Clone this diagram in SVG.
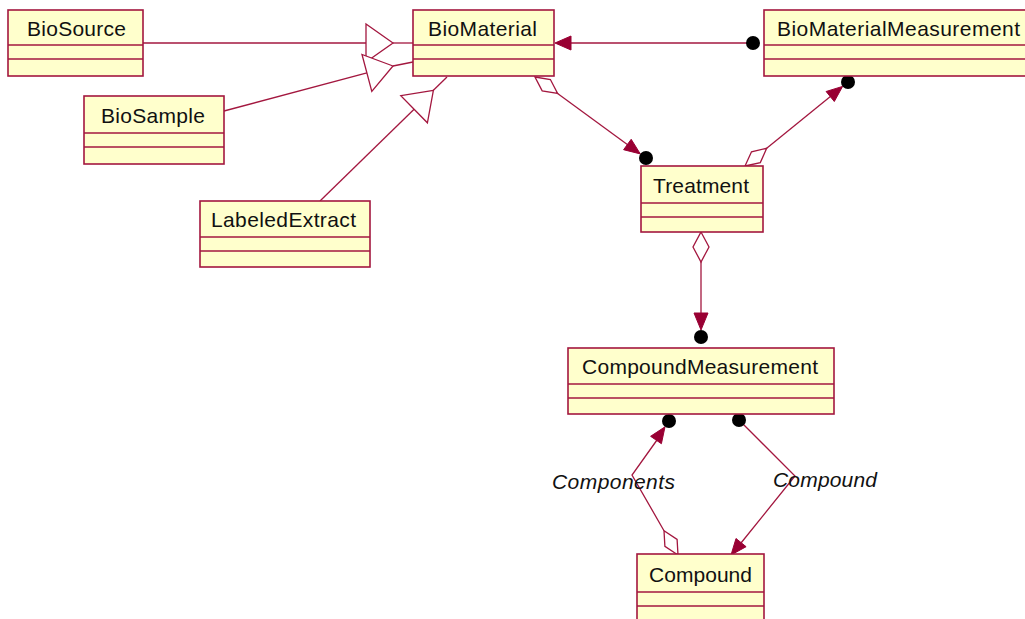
<svg xmlns="http://www.w3.org/2000/svg" width="1025" height="619" viewBox="0 0 1025 619">
  <style>
    .box { fill: #ffffcc; stroke: #a3173f; stroke-width: 1.6; }
    .sep { stroke: #a3173f; stroke-width: 1.6; }
    .name { font-family: "Liberation Sans", Arial, sans-serif; font-size: 21px; fill: #111; }
    .role { font-family: "Liberation Sans", Arial, sans-serif; font-size: 21px; font-style: italic; fill: #111; }
    .edge { fill: none; stroke: #a3173f; stroke-width: 1.3; }
    .hollow { fill: #ffffff; stroke: #a3173f; stroke-width: 1.3; }
    .head { fill: #990033; stroke: #990033; stroke-width: 1; }
    .end { fill: #000000; }
  </style>

  <!-- connectors -->
  <g id="connectors">
    <!-- generalizations into BioMaterial -->
    <line class="edge" x1="143" y1="43" x2="366" y2="43"/>
    <line class="edge" x1="393" y1="43" x2="413" y2="43"/>
    <polygon class="hollow" points="393,43 366,24 366,62"/>

    <line class="edge" x1="224" y1="111" x2="366.9" y2="72.9"/>
    <line class="edge" x1="393" y1="66" x2="413" y2="62"/>
    <polygon class="hollow" points="393,66 362,54.5 371.8,91.3"/>

    <line class="edge" x1="320" y1="201" x2="414.1" y2="109.2"/>
    <line class="edge" x1="433.4" y1="90.3" x2="447" y2="77"/>
    <polygon class="hollow" points="433.4,90.3 400.8,95.6 427.4,122.8"/>

    <!-- BioMaterialMeasurement to BioMaterial -->
    <line class="edge" x1="570" y1="43" x2="753" y2="43"/>
    <polygon class="head" points="555,43 571,36 571,50"/>
    <circle class="end" cx="753" cy="43" r="7"/>

    <!-- BioMaterial to Treatment -->
    <line class="edge" x1="557.6" y1="93.5" x2="628" y2="145"/>
    <polygon class="hollow" points="535,77 550.4,79.5 557.6,93.5 542.2,90.9"/>
    <polygon class="head" points="640.3,153.9 631.2,139.3 623.6,149.7"/>
    <circle class="end" cx="646" cy="158" r="7"/>

    <!-- Treatment to BioMaterialMeasurement -->
    <line class="edge" x1="766.7" y1="148.3" x2="831" y2="96"/>
    <polygon class="hollow" points="745,166 760.3,162.6 766.7,148.3 751.5,151.8"/>
    <polygon class="head" points="842.6,86.4 826.1,91.5 834.3,101.5"/>
    <circle class="end" cx="848" cy="82" r="7"/>

    <!-- Treatment to CompoundMeasurement -->
    <line class="edge" x1="701" y1="262" x2="701" y2="314"/>
    <polygon class="hollow" points="701,232 709,247 701,262 693,247"/>
    <polygon class="head" points="701,330 694,313 708,313"/>
    <circle class="end" cx="701" cy="337" r="7"/>

    <!-- Components -->
    <polyline class="edge" points="664,530.7 632,475 657,440"/>
    <polygon class="hollow" points="678,555 664.9,546.4 664,530.7 677.1,539.4"/>
    <polygon class="head" points="665,426.8 650.6,436.3 661.4,443.7"/>
    <circle class="end" cx="669" cy="421" r="7"/>

    <!-- Compound -->
    <polyline class="edge" points="739,420 795,476 741,543"/>
    <polygon class="head" points="731,555 736,538.5 746.1,546.7"/>
    <circle class="end" cx="739" cy="420" r="7"/>

    <text class="role" x="552" y="489" textLength="123" lengthAdjust="spacing">Components</text>
    <text class="role" x="773" y="487" textLength="104" lengthAdjust="spacing">Compound</text>
  </g>

  <!-- classes -->
  <g id="BioSource">
    <rect class="box" x="8" y="10" width="135" height="66"/>
    <line class="sep" x1="8" y1="45" x2="143" y2="45"/>
    <line class="sep" x1="8" y1="59" x2="143" y2="59"/>
    <text class="name" x="27" y="36" textLength="99" lengthAdjust="spacing">BioSource</text>
  </g>

  <g id="BioMaterial">
    <rect class="box" x="413" y="10" width="141" height="66"/>
    <line class="sep" x1="413" y1="45" x2="554" y2="45"/>
    <line class="sep" x1="413" y1="59" x2="554" y2="59"/>
    <text class="name" x="428" y="36" textLength="109" lengthAdjust="spacing">BioMaterial</text>
  </g>

  <g id="BioMaterialMeasurement">
    <rect class="box" x="764" y="10" width="270" height="66"/>
    <line class="sep" x1="764" y1="45" x2="1034" y2="45"/>
    <line class="sep" x1="764" y1="59" x2="1034" y2="59"/>
    <text class="name" x="777" y="36" textLength="243" lengthAdjust="spacing">BioMaterialMeasurement</text>
  </g>

  <g id="BioSample">
    <rect class="box" x="84" y="96" width="140" height="68"/>
    <line class="sep" x1="84" y1="133" x2="224" y2="133"/>
    <line class="sep" x1="84" y1="147" x2="224" y2="147"/>
    <text class="name" x="101" y="123" textLength="104" lengthAdjust="spacing">BioSample</text>
  </g>

  <g id="LabeledExtract">
    <rect class="box" x="200" y="201" width="170" height="66"/>
    <line class="sep" x1="200" y1="237" x2="370" y2="237"/>
    <line class="sep" x1="200" y1="251" x2="370" y2="251"/>
    <text class="name" x="211" y="227" textLength="145" lengthAdjust="spacing">LabeledExtract</text>
  </g>

  <g id="Treatment">
    <rect class="box" x="641" y="166" width="122" height="66"/>
    <line class="sep" x1="641" y1="203" x2="763" y2="203"/>
    <line class="sep" x1="641" y1="217" x2="763" y2="217"/>
    <text class="name" x="653" y="193" textLength="96" lengthAdjust="spacing">Treatment</text>
  </g>

  <g id="CompoundMeasurement">
    <rect class="box" x="568" y="348" width="266" height="66"/>
    <line class="sep" x1="568" y1="384" x2="834" y2="384"/>
    <line class="sep" x1="568" y1="398" x2="834" y2="398"/>
    <text class="name" x="582" y="374" textLength="236" lengthAdjust="spacing">CompoundMeasurement</text>
  </g>

  <g id="Compound">
    <rect class="box" x="637" y="554" width="127" height="68"/>
    <line class="sep" x1="637" y1="592" x2="764" y2="592"/>
    <line class="sep" x1="637" y1="606" x2="764" y2="606"/>
    <text class="name" x="649" y="582" textLength="103" lengthAdjust="spacing">Compound</text>
  </g>
</svg>
